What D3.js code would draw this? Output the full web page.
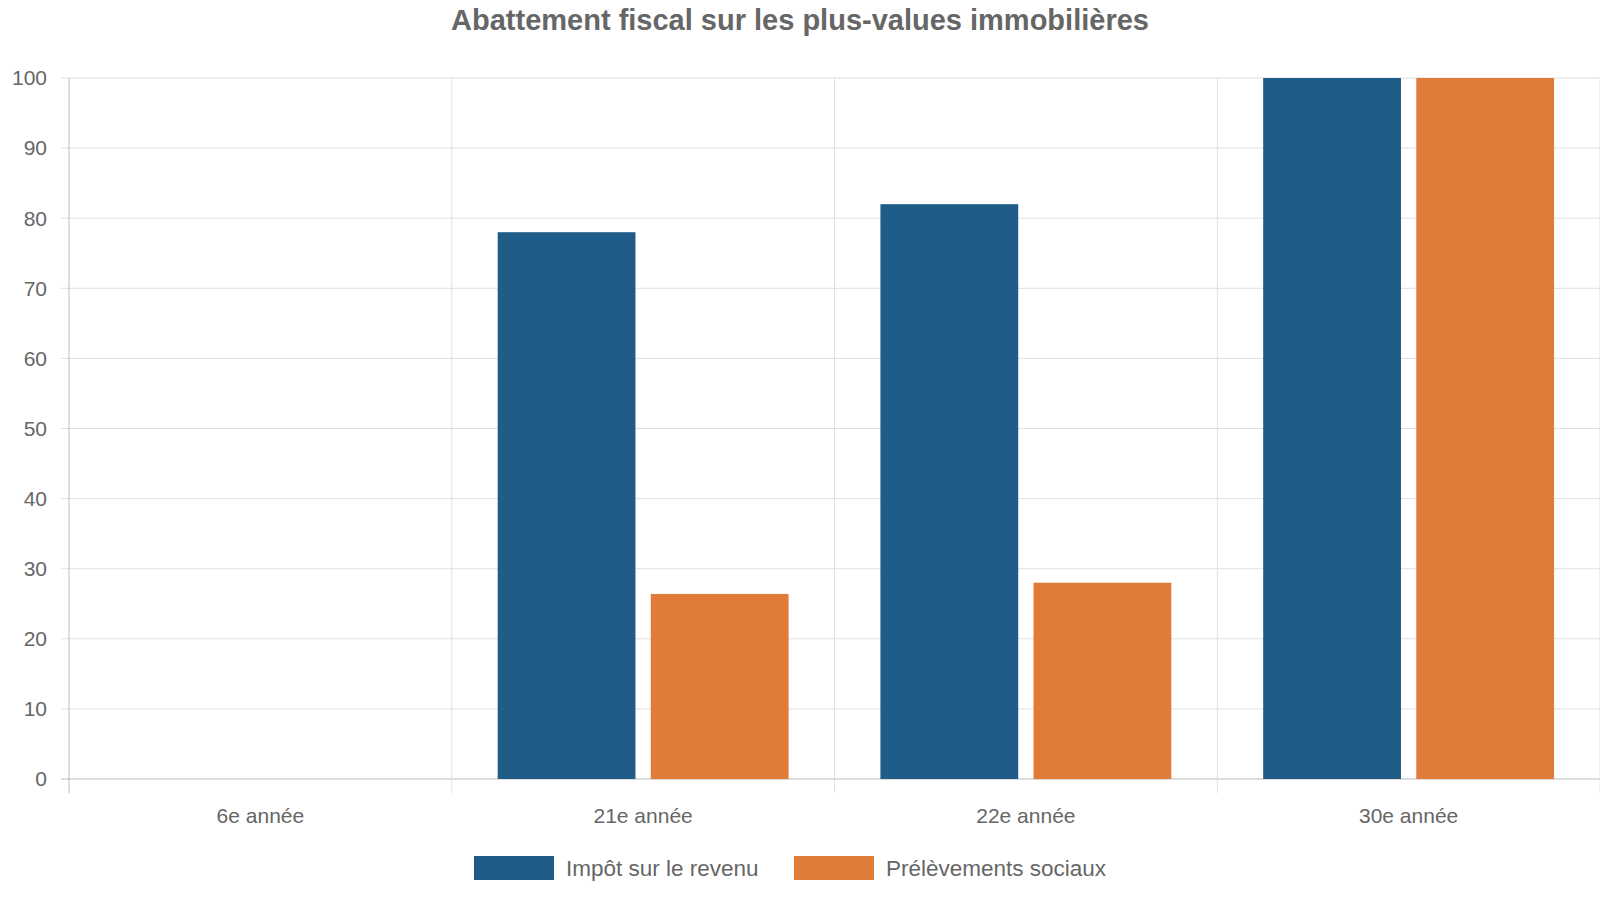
<!DOCTYPE html>
<html><head><meta charset="utf-8">
<script src="https://cdn.jsdelivr.net/npm/d3@7"></script>
<style>body{margin:0;background:#fff;font-family:"Liberation Sans",Arial,sans-serif;}</style>
</head><body>
<svg id="chart" width="1600" height="900"></svg>
<script>
// data
const categories = ["6e année", "21e année", "22e année", "30e année"];
const seriesNames = ["Impôt sur le revenu", "Prélèvements sociaux"];
const impot = [0, 78, 82, 100];
const prelev = [0, 26.4, 28, 100];
const yTicks = [0, 10, 20, 30, 40, 50, 60, 70, 80, 90, 100];
const colors = ["#1f5c87", "#e07b3a"];

const svg = d3.select("#chart");
const m = { top: 78, left: 69, right: 1600, bottom: 779 };
const grey = "#666";

svg.append("text").attr("x", 800).attr("y", 30).attr("text-anchor", "middle")
  .attr("font-size", 29).attr("font-weight", "bold").attr("fill", grey)
  .text("Abattement fiscal sur les plus-values immobilières");

const x = d3.scaleBand().domain(categories).range([m.left, m.right]);
const x1 = d3.scaleBand().domain([0, 1]).range([0, x.bandwidth()]).paddingInner(0.1).paddingOuter(0.3);
const y = d3.scaleLinear().domain([0, 100]).range([m.bottom, m.top]);

// gridlines
const g = svg.append("g");
g.selectAll(".h").data(yTicks).join("line")
  .attr("x1", m.left - 8).attr("x2", m.right).attr("y1", d => y(d)).attr("y2", d => y(d))
  .attr("stroke", d => d === 0 ? "#bbb" : "#e0e0e0");
const vlines = categories.map(c => x(c)).concat([m.right]);
g.selectAll(".v").data(vlines).join("line")
  .attr("x1", d => d).attr("x2", d => d).attr("y1", m.top).attr("y2", m.bottom + 14)
  .attr("stroke", (d, i) => i === 0 ? "#bbb" : "#e0e0e0");

g.selectAll(".yl").data(yTicks).join("text")
  .attr("x", m.left - 22).attr("y", d => y(d)).attr("dy", "0.35em").attr("text-anchor", "end")
  .attr("font-size", 21).attr("fill", grey).text(d => d);
g.selectAll(".xl").data(categories).join("text")
  .attr("x", d => x(d) + x.bandwidth() / 2).attr("y", 823).attr("text-anchor", "middle")
  .attr("font-size", 21).attr("fill", grey).text(d => d);

const series = [impot, prelev];
series.forEach((vals, s) => {
  svg.append("g").selectAll("rect").data(vals).join("rect")
    .attr("x", (d, i) => x(categories[i]) + x1(s))
    .attr("width", x1.bandwidth())
    .attr("y", d => y(d)).attr("height", d => m.bottom - y(d))
    .attr("fill", colors[s]);
});

// legend
const leg = svg.append("g");
const lx = [474, 794];
seriesNames.forEach((n, i) => {
  leg.append("rect").attr("x", lx[i]).attr("y", 856).attr("width", 80).attr("height", 24).attr("fill", colors[i]);
  leg.append("text").attr("x", lx[i] + 92).attr("y", 868).attr("dy", "0.35em")
    .attr("font-size", 22.5).attr("fill", grey).text(n);
});
</script>
</body></html>
